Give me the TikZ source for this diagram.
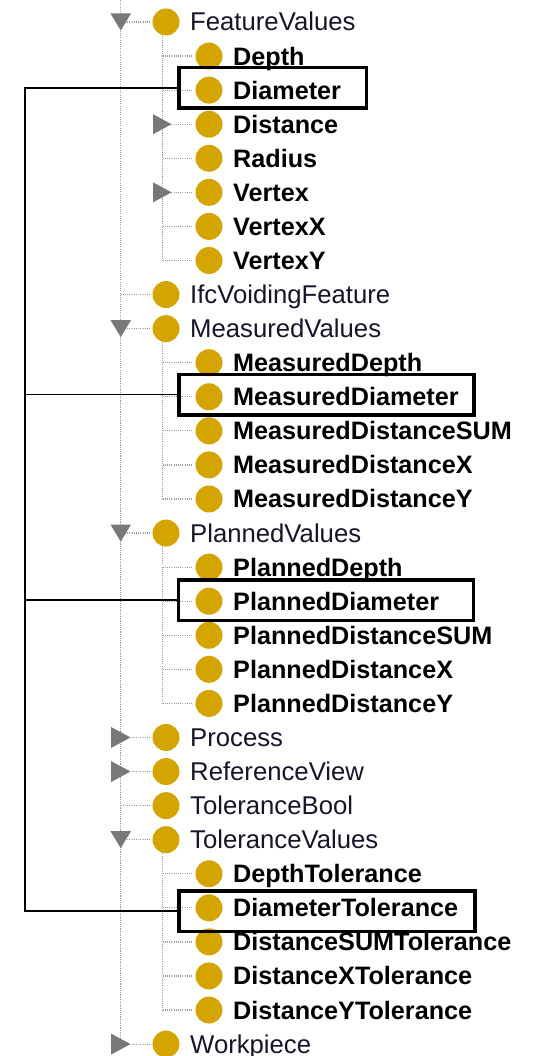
\documentclass[tikz,border=0pt]{standalone}
\usepackage{fontspec}
\setmainfont{Liberation Sans}
\definecolor{gold}{HTML}{D4A500}
\definecolor{trigray}{HTML}{787878}
\definecolor{dotgray}{HTML}{9C9C9C}
\definecolor{lvltxt}{HTML}{15152A}
\begin{document}
\begin{tikzpicture}[x=1pt,y=-1pt,
  ball/.style={circle,fill=gold,inner sep=0pt,minimum size=27pt},
  labone/.style={anchor=base west,inner sep=0pt,text=lvltxt,font=\fontsize{25.7}{30}\selectfont},
  labtwo/.style={anchor=base west,inner sep=0pt,text=black,font=\fontsize{25.2}{30}\selectfont\bfseries},
  treeline/.style={draw=dotgray,line width=1.2pt,dash pattern=on 1.1pt off 1.1pt},
  hbox/.style={draw=black,line width=3.5pt,inner sep=0pt,fill=none},
  conn/.style={draw=black,line width=1.8pt},
  tridown/.style={fill=trigray},
  triright/.style={fill=trigray}]
\useasboundingbox (0,0) rectangle (539,1056);
\fill[white] (0,0) rectangle (539,1056);
\coordinate (top) at (120.5,0);
\coordinate (ltwo) at (162.5,0);
\coordinate (s) at (25,0);
% level-1 circles and labels
\foreach \i/\n in {1/FeatureValues,9/IfcVoidingFeature,10/MeasuredValues,16/PlannedValues,22/Process,23/ReferenceView,24/ToleranceBool,25/ToleranceValues,31/Workpiece}{
  \pgfmathsetmacro\yy{22+34.07*(\i-1)}
  \node[ball] (c\i) at (166,\yy) {};
  \node[labone] (t\i) at (190,\yy+9) {\n};
}
% level-2 circles and labels
\foreach \i/\n in {2/Depth,3/Diameter,4/Distance,5/Radius,6/Vertex,7/VertexX,8/VertexY,
  11/MeasuredDepth,12/MeasuredDiameter,13/MeasuredDistanceSUM,14/MeasuredDistanceX,15/MeasuredDistanceY,
  17/PlannedDepth,18/PlannedDiameter,19/PlannedDistanceSUM,20/PlannedDistanceX,21/PlannedDistanceY,
  26/DepthTolerance,27/DiameterTolerance,28/DistanceSUMTolerance,29/DistanceXTolerance,30/DistanceYTolerance}{
  \pgfmathsetmacro\yy{22+34.07*(\i-1)}
  \node[ball] (c\i) at (209,\yy) {};
  \node[labtwo] (t\i) at (233,\yy+9) {\n};
}
% tree lines
\draw[treeline] (top) -- (top |- c31);
\foreach \i in {1,9,10,16,22,23,24,25,31}{
  \draw[treeline] (c\i.west -| top) -- ([xshift=-3pt]c\i.west);
}
\draw[treeline] (c1.south -| ltwo) -- (c8 -| ltwo);
\draw[treeline] (c10.south -| ltwo) -- (c15 -| ltwo);
\draw[treeline] (c16.south -| ltwo) -- (c21 -| ltwo);
\draw[treeline] (c25.south -| ltwo) -- (c30 -| ltwo);
\foreach \i in {2,3,4,5,6,7,8,11,12,13,14,15,17,18,19,20,21,26,27,28,29,30}{
  \draw[treeline] (c\i.west -| ltwo) -- ([xshift=-3pt]c\i.west);
}
% expand / collapse triangles
\foreach \i in {1,10,16,25}{
  \fill[tridown] (c\i -| top) ++(-10,-8.5) -- ++(20.5,0) -- ++(-10.25,17) -- cycle;
}
\foreach \i in {22,23,31}{
  \fill[triright] (c\i -| top) ++(-9.5,-10.5) -- ++(0,21) -- ++(19.5,-10.5) -- cycle;
}
\foreach \i in {4,6}{
  \fill[triright] (c\i -| ltwo) ++(-9.5,-10) -- ++(0,20) -- ++(18.5,-10) -- cycle;
}
% highlight boxes
\node[hbox,minimum width=187.5pt,minimum height=40.5pt] (b1) at (272.5,88) {};
\node[hbox,minimum width=295pt,minimum height=40.5pt] (b2) at (326.5,394.5) {};
\node[hbox,minimum width=295pt,minimum height=40.5pt] (b3) at (326,600) {};
\node[hbox,minimum width=296pt,minimum height=40.5pt] (b4) at (327,911) {};
% connectors
\draw[conn] (b1.west) -- (b1.west -| s) -- (b4.west -| s) -- (b4.west);
\draw[conn] (b2.west) -- (b2.west -| s);
\draw[conn] (b3.west) -- (b3.west -| s);
\end{tikzpicture}
\end{document}
